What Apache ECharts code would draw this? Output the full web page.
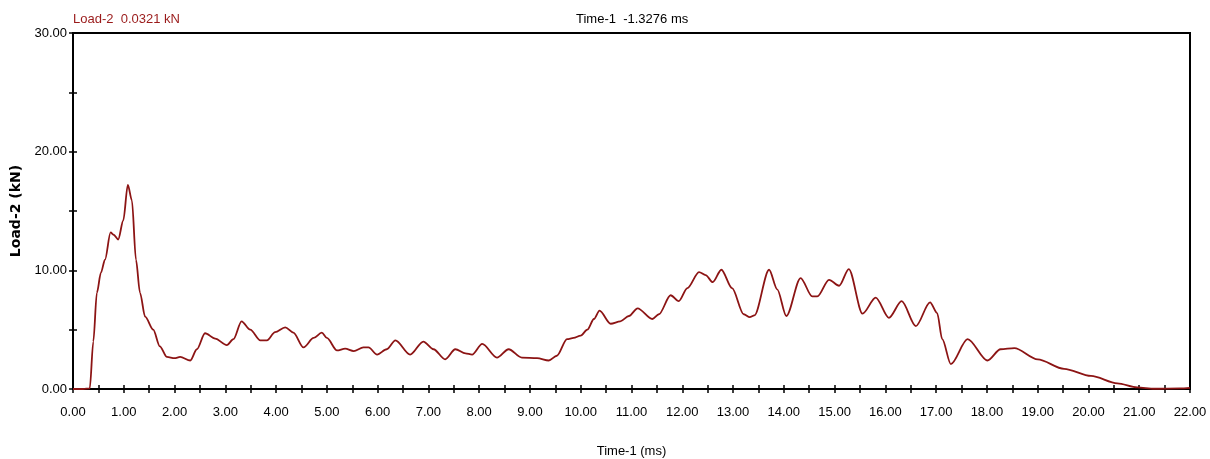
<!DOCTYPE html>
<html lang="en">
<head>
    <meta charset="UTF-8">
    <title>Load-2</title>
    <script src="https://cdn.jsdelivr.net/npm/echarts@6/dist/echarts.min.js"></script>
    <style>
        body{ margin: 0; background: #fff; }
        .box{ width: 1210px; height: 459px; }
    </style>
</head>
<body>
<div id="main" class="box"></div>
<script>
    // time (ms) and load (kN)
    var times = [0, 0.2, 0.33, 0.4, 0.47, 0.55, 0.63, 0.74, 0.8, 0.89, 0.99, 1.08, 1.16, 1.24, 1.32, 1.42, 1.58, 1.71, 1.85, 2.0,
        2.11, 2.31, 2.44, 2.6, 2.8, 3.03, 3.16, 3.32, 3.49, 3.69, 3.82, 3.98, 4.18, 4.34, 4.54, 4.74, 4.9, 5.0, 5.2, 5.36,
        5.53, 5.72, 5.82, 5.99, 6.18, 6.35, 6.64, 6.9, 7.1, 7.33, 7.53, 7.73, 7.86, 8.06, 8.35, 8.58, 8.84, 9.14, 9.37, 9.53,
        9.73, 9.86, 10.0, 10.13, 10.26, 10.37, 10.59, 10.78, 10.95, 11.12, 11.41, 11.54, 11.77, 11.93, 12.1, 12.33, 12.46, 12.6, 12.77, 12.98,
        13.21, 13.33, 13.42, 13.71, 13.87, 14.05, 14.33, 14.56, 14.66, 14.89, 15.09, 15.28, 15.55, 15.81, 16.07, 16.32, 16.6, 16.88, 17.02, 17.12,
        17.29, 17.62, 18.01, 18.27, 18.54, 19.0, 19.52, 20.05, 20.57, 20.96, 21.3, 21.8, 22.0];
    var loads = [0, 0, 0.05, 4.0, 8.1, 9.8, 10.9, 13.2, 13.0, 12.6, 14.2, 17.2, 15.9, 10.9, 8.1, 6.1, 5.0, 3.6, 2.7, 2.6,
        2.7, 2.4, 3.35, 4.7, 4.25, 3.7, 4.2, 5.7, 5.0, 4.1, 4.1, 4.8, 5.2, 4.75, 3.5, 4.3, 4.75, 4.3, 3.25, 3.4,
        3.2, 3.5, 3.5, 2.9, 3.35, 4.1, 2.9, 4.0, 3.35, 2.5, 3.35, 3.0, 2.9, 3.8, 2.65, 3.35, 2.65, 2.6, 2.4, 2.8,
        4.2, 4.3, 4.5, 5.0, 5.9, 6.6, 5.5, 5.7, 6.15, 6.8, 5.9, 6.3, 7.9, 7.4, 8.5, 9.85, 9.6, 9.0, 10.05, 8.5,
        6.3, 6.05, 6.2, 10.05, 8.4, 6.15, 9.35, 7.8, 7.8, 9.2, 8.7, 10.1, 6.35, 7.7, 6.0, 7.4, 5.3, 7.3, 6.4, 4.2,
        2.1, 4.2, 2.4, 3.35, 3.45, 2.5, 1.7, 1.1, 0.48, 0.14, 0.02, 0.05, 0.1];
    var xRange = [0, 22];
    var yRange = [0, 30];

    var font = '"Liberation Sans", Arial, sans-serif';

    var points = [];
    for (var i = 0; i < times.length; i++) {
        points.push([times[i], loads[i]]);
    }

    function xAxisCfg(inner) {
        return {
            type: 'value', position: 'bottom', min: xRange[0], max: xRange[1], interval: 0.5,
            splitLine: { show: false },
            axisLine: { show: !inner, lineStyle: { color: '#000', width: 2 } },
            axisTick: { inside: inner, length: 4, lineStyle: { color: '#000', width: 1.5 } },
            axisLabel: {
                show: !inner, margin: 17, color: '#000', fontSize: 13, fontFamily: font,
                formatter: function (v) { return v % 1 === 0 ? v.toFixed(2) : ''; }
            }
        };
    }
    function yAxisCfg(inner) {
        return {
            type: 'value', position: 'left', min: yRange[0], max: yRange[1], interval: 5,
            splitLine: { show: false },
            axisLine: { show: !inner, lineStyle: { color: '#000', width: 2 } },
            axisTick: { inside: inner, length: 4, lineStyle: { color: '#000', width: 1.5 } },
            axisLabel: {
                show: !inner, margin: 6, color: '#000', fontSize: 13, fontFamily: font,
                formatter: function (v) { return v % 10 === 0 ? v.toFixed(2) : ''; }
            }
        };
    }

    var xa = xAxisCfg(false);
    xa.name = 'Time-1 (ms)';
    xa.nameLocation = 'middle';
    xa.nameGap = 56;
    xa.nameTextStyle = { color: '#000', fontSize: 13, fontFamily: font };
    var ya = yAxisCfg(false);
    ya.name = 'Load-2 (kN)';
    ya.nameLocation = 'middle';
    ya.nameGap = 41;
    ya.nameTextStyle = { color: '#000', fontSize: 14, fontWeight: 'bold', fontFamily: '"DejaVu Sans", sans-serif' };

    var myChart = echarts.init(document.getElementById('main'));
    var option = {
        animation: false,
        backgroundColor: '#fff',
        grid: {
            left: 73, right: 20, top: 33, bottom: 70,
            outerBoundsMode: 'none',
            show: true, borderColor: '#000', borderWidth: 2
        },
        graphic: [
            { type: 'text', left: 73, top: 13, style: { text: 'Load-2  0.0321 kN', fill: '#9a1a1a', font: '13px ' + font } },
            { type: 'text', left: 576, top: 13, style: { text: 'Time-1  -1.3276 ms', fill: '#000', font: '13px ' + font } }
        ],
        xAxis: [xa, xAxisCfg(true)],
        yAxis: [ya, yAxisCfg(true)],
        series: [{
            type: 'line',
            data: points,
            xAxisIndex: 0,
            yAxisIndex: 0,
            showSymbol: false,
            smooth: 0.3,
            smoothMonotone: 'x',
            lineStyle: { color: '#8c1414', width: 1.8 }
        }]
    };
    myChart.setOption(option);
</script>
</body>
</html>
